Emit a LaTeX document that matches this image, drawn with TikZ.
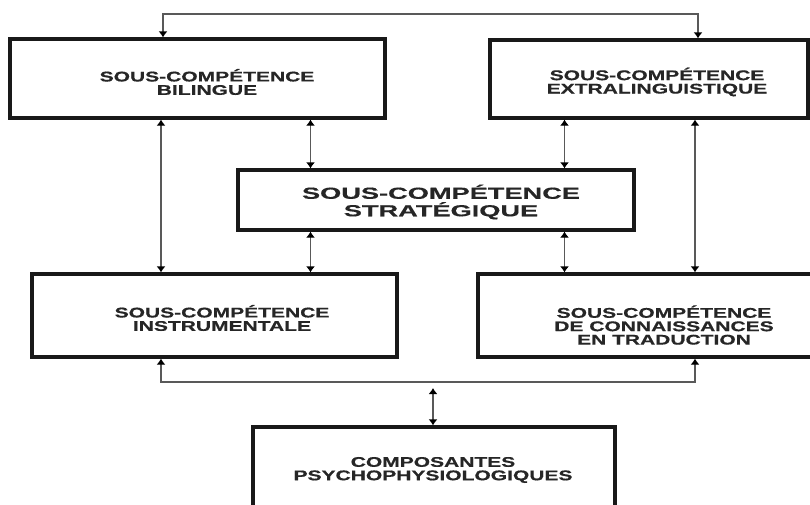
\documentclass[tikz,border=0pt]{standalone}
\usepackage{fontspec}
\setmainfont{Liberation Sans}
\newfontfamily\boxfont[FakeStretch=1.5,FakeBold=0.6]{Liberation Sans}
\newfontfamily\stratfont[FakeStretch=1.7,FakeBold=0.3]{Liberation Sans}
\usetikzlibrary{arrows.meta}
\begin{document}
\begin{tikzpicture}[x=1pt,y=-1pt,
  box/.style={draw=black!90, line width=3.2pt, fill=none, inner sep=0pt},
  lbl/.style={align=center, text=black!85, inner sep=0pt,
    font=\boxfont\bfseries\fontsize{14}{13.4}\selectfont},
  slbl/.style={align=center, text=black!85, inner sep=0pt,
    font=\stratfont\bfseries\fontsize{16}{17.5}\selectfont},
  conn/.style={draw=black!65, line width=1.4pt, {Latex[length=6pt,width=9pt,color=black]}-{Latex[length=6pt,width=9pt,color=black]}}]
\clip (0,0) rectangle (810,504);
\fill[white] (0,0) rectangle (810,504);

% column coordinates
\coordinate (cA) at (161,0);
\coordinate (cA2) at (163,0);
\coordinate (cB) at (310.5,0);
\coordinate (cC) at (564.5,0);
\coordinate (cD) at (695,0);
\coordinate (cD2) at (698,0);
\coordinate (top) at (433,14);
\coordinate (bot) at (433,382);
\coordinate (mtop) at (433,388);

% boxes
\node[box, minimum width=375pt, minimum height=79pt] (bil) at (197.5,78.5) {};
\node[box, minimum width=318pt, minimum height=78pt] (ext) at (649,79) {};
\node[box, minimum width=396pt, minimum height=60pt] (str) at (436,200) {};
\node[box, minimum width=365pt, minimum height=83pt] (ins) at (214.5,315.5) {};
\node[box, minimum width=364pt, minimum height=83pt] (con) at (660,315.5) {};
\node[box, minimum width=362pt, minimum height=84pt] (comp) at (434,469) {};

% labels
\node[lbl] (bilT) at (207,82) {SOUS-COMPÉTENCE\\BILINGUE};
\node[lbl] (extT) at (657,82) {SOUS-COMPÉTENCE\\EXTRALINGUISTIQUE};
\node[slbl] (strT) at (441,202) {SOUS-COMPÉTENCE\\STRATÉGIQUE};
\node[lbl] (insT) at (222,318) {SOUS-COMPÉTENCE\\INSTRUMENTALE};
\node[lbl] (conT) at (664,325) {SOUS-COMPÉTENCE\\DE CONNAISSANCES\\EN TRADUCTION};
\node[lbl] (compT) at (433,470) {COMPOSANTES\\PSYCHOPHYSIOLOGIQUES};

% connectors
\draw[conn] (bil.north -| cA2) |- (top) -| (ext.north -| cD2);
\draw[conn] (ins.south -| cA) |- (bot) -| (con.south -| cD);
\draw[conn] (bil.south -| cA) -- (ins.north -| cA);
\draw[conn] (bil.south -| cB) -- (str.north -| cB);
\draw[conn] (str.south -| cB) -- (ins.north -| cB);
\draw[conn] (ext.south -| cC) -- (str.north -| cC);
\draw[conn] (str.south -| cC) -- (con.north -| cC);
\draw[conn] (ext.south -| cD) -- (con.north -| cD);
\draw[conn] (mtop) -- (comp.north -| mtop);
\end{tikzpicture}
\end{document}
